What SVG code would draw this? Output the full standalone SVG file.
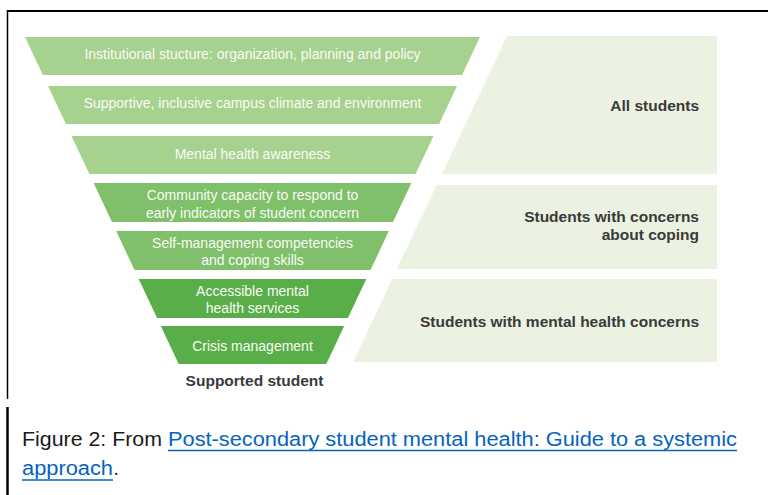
<svg xmlns="http://www.w3.org/2000/svg" width="768" height="495" viewBox="0 0 768 495">
  <style>
    .band-light { fill: #a7d18f; }
    .band-mid { fill: #80c06a; }
    .band-dark { fill: #5aae4a; }
    .panel { fill: #ebf2e1; }
    .band-text { font-family: "Liberation Sans", Arial, sans-serif; font-size: 14px; fill: #f7fbf4; text-anchor: middle; }
    .group-text { font-family: "Liberation Sans", Arial, sans-serif; font-size: 15.5px; font-weight: bold; fill: #3a3a3a; text-anchor: end; }
    .base-text { font-family: "Liberation Sans", Arial, sans-serif; font-size: 15.5px; font-weight: bold; fill: #3a3a3a; text-anchor: middle; }
    .caption { font-family: "Liberation Sans", Arial, sans-serif; font-size: 19.5px; fill: #1a1a1a; }
    .link { fill: #0563c1; }
    .frame { stroke: #000; fill: none; }
  </style>

  <rect width="768" height="495" fill="#ffffff"/>

  <!-- frame lines -->
  <line class="frame" x1="7" y1="11" x2="768" y2="11" stroke-width="2"/>
  <line class="frame" x1="7.5" y1="10" x2="7.5" y2="399" stroke-width="1.5"/>
  <line class="frame" x1="7.5" y1="407" x2="7.5" y2="495" stroke-width="2.5"/>

  <!-- audience panels -->
  <g id="panel-all-students">
    <polygon class="panel" points="507,36 717,36 717,174 441.9,174"/>
    <text class="group-text" x="699" y="111">All students</text>
  </g>
  <g id="panel-coping-concerns">
    <polygon class="panel" points="436.7,185 717,185 717,269 397,269"/>
    <text class="group-text" x="699" y="222">Students with concerns</text>
    <text class="group-text" x="699" y="239.5">about coping</text>
  </g>
  <g id="panel-mental-health-concerns">
    <polygon class="panel" points="392.3,279 717,279 717,362 353.1,362"/>
    <text class="group-text" x="699" y="327">Students with mental health concerns</text>
  </g>

  <!-- funnel layers -->
  <g id="layer-institutional-structure">
    <polygon class="band-light" points="25,37 480,37 462.1,75 42.9,75"/>
    <text class="band-text" x="252.5" y="59">Institutional stucture: organization, planning and policy</text>
  </g>
  <g id="layer-campus-climate">
    <polygon class="band-light" points="48,86 457,86 439.1,124 65.9,124"/>
    <text class="band-text" x="252.5" y="108">Supportive, inclusive campus climate and environment</text>
  </g>
  <g id="layer-awareness">
    <polygon class="band-light" points="71.5,136 433.5,136 415.6,174 89.4,174"/>
    <text class="band-text" x="252.5" y="158.5">Mental health awareness</text>
  </g>
  <g id="layer-community-capacity">
    <polygon class="band-mid" points="93.6,183 411.4,183 393,222 112,222"/>
    <text class="band-text" x="252.5" y="200">Community capacity to respond to</text>
    <text class="band-text" x="252.5" y="218">early indicators of student concern</text>
  </g>
  <g id="layer-self-management">
    <polygon class="band-mid" points="116.2,231 388.8,231 370.5,270 134.5,270"/>
    <text class="band-text" x="252.5" y="247.5">Self-management competencies</text>
    <text class="band-text" x="252.5" y="265">and coping skills</text>
  </g>
  <g id="layer-services">
    <polygon class="band-dark" points="138.7,279 366.3,279 347.9,318 157.1,318"/>
    <text class="band-text" x="252.5" y="295.5">Accessible mental</text>
    <text class="band-text" x="252.5" y="313">health services</text>
  </g>
  <g id="layer-crisis">
    <polygon class="band-dark" points="160.8,326 344.2,326 326.3,364 178.7,364"/>
    <text class="band-text" x="252.5" y="350.5">Crisis management</text>
  </g>
  <g id="supported-student">
    <text class="base-text" x="254.5" y="386">Supported student</text>
  </g>

  <!-- caption -->
  <g id="caption">
    <text class="caption" x="22" y="446" textLength="140" lengthAdjust="spacingAndGlyphs">Figure 2: From</text>
    <text class="caption link" x="168" y="446" textLength="569" lengthAdjust="spacingAndGlyphs">Post-secondary student mental health: Guide to a systemic</text>
    <line x1="168" y1="450.5" x2="737" y2="450.5" stroke="#0563c1" stroke-width="1.5"/>
    <text class="caption link" x="22" y="475" textLength="91" lengthAdjust="spacingAndGlyphs">approach</text>
    <line x1="22" y1="480" x2="113" y2="480" stroke="#0563c1" stroke-width="1.5"/>
    <text class="caption" x="113.5" y="475">.</text>
  </g>
</svg>
